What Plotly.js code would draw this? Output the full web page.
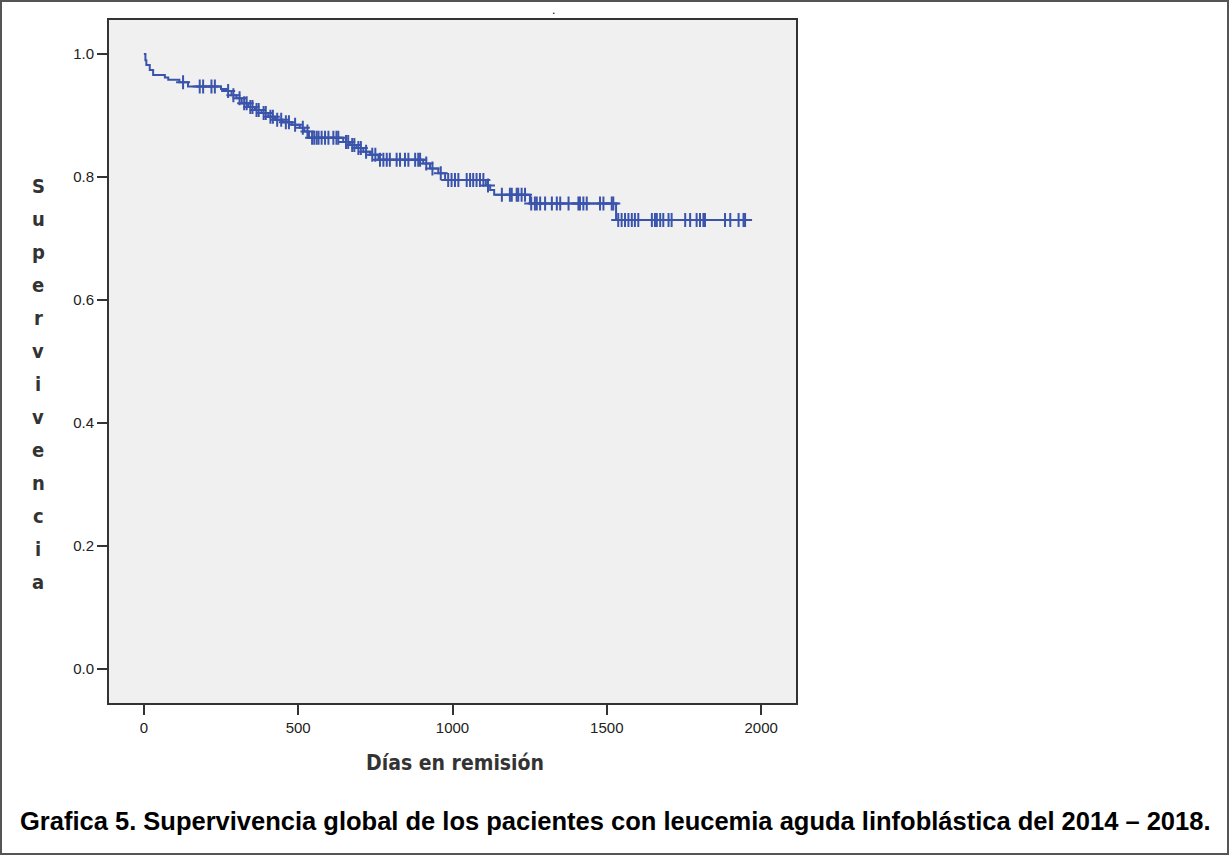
<!DOCTYPE html>
<html>
<head>
<meta charset="utf-8">
<script src="https://cdn.plot.ly/plotly-3.0.1.min.js"></script>
<style>
html,body{margin:0;padding:0;background:#fff;}
#wrap{position:relative;width:1229px;height:855px;}
#chart{position:absolute;left:0;top:0;width:1229px;height:855px;}
#frame{position:absolute;left:0;top:0;width:1229px;height:855px;box-sizing:border-box;border:2px solid #555;pointer-events:none;}
</style>
</head>
<body>
<div id="wrap"><div id="chart"></div><div id="frame"></div></div>
<script>
// Kaplan-Meier steps: day of drop and survival after it
const stepDays = [5, 8, 19, 30, 68, 79, 115, 143, 250, 268, 284, 300, 317, 338, 360, 381, 403, 425, 450, 479, 505, 520, 535, 646, 668, 689, 711, 733, 760, 905, 927, 954, 976, 1108, 1122, 1135, 1251, 1530];
const stepSurv = [0.990, 0.982, 0.974, 0.966, 0.962, 0.958, 0.954, 0.947, 0.943, 0.940, 0.933, 0.928, 0.920, 0.914, 0.909, 0.904, 0.898, 0.893, 0.889, 0.885, 0.880, 0.874, 0.864, 0.857, 0.852, 0.847, 0.841, 0.836, 0.828, 0.822, 0.814, 0.806, 0.795, 0.786, 0.779, 0.771, 0.757, 0.730];
const lastDay = 1968;
// censored observations (days)
const censorDays = [127, 181, 192, 219, 230, 273, 290, 310, 325, 333, 345, 352, 365, 372, 388, 395, 410, 418, 432, 445, 460, 470, 490, 515, 530, 545, 552, 560, 566, 576, 587, 598, 614, 624, 630, 655, 662, 675, 682, 695, 703, 720, 740, 750, 765, 776, 787, 797, 819, 830, 846, 857, 879, 889, 895, 915, 935, 962, 986, 997, 1008, 1019, 1046, 1057, 1067, 1078, 1089, 1100, 1115, 1160, 1186, 1192, 1208, 1213, 1224, 1235, 1255, 1267, 1273, 1284, 1300, 1322, 1338, 1349, 1376, 1408, 1413, 1424, 1435, 1478, 1489, 1516, 1521, 1537, 1548, 1559, 1570, 1581, 1591, 1602, 1646, 1656, 1662, 1673, 1683, 1700, 1710, 1754, 1770, 1791, 1802, 1813, 1818, 1883, 1900, 1927, 1943, 1948];
const xTicks = [0, 500, 1000, 1500, 2000];
const yTicks = [0.0, 0.2, 0.4, 0.6, 0.8, 1.0];
const xTitle = 'Días en remisión';
const yTitle = 'Supervivencia';
const caption = 'Grafica 5. Supervivencia global de los pacientes con leucemia aguda linfoblástica del 2014 – 2018.';

function survAt(d){
  let s = 1.0;
  for (let i = 0; i < stepDays.length; i++){ if (stepDays[i] <= d) s = stepSurv[i]; }
  return s;
}
const lineX = [0].concat(stepDays, [lastDay]);
const lineY = [1.0].concat(stepSurv, [stepSurv[stepSurv.length-1]]);
const cY = censorDays.map(survAt);

const W = 1229, H = 855;
const L = 109, R = 796, T = 20, B = 703;
const px2x = p => (p - L) / (R - L);
const px2y = p => (B - p) / (B - T);

const blue = '#3a54ab';
const traces = [
  {x: lineX, y: lineY, type: 'scatter', mode: 'lines', line: {shape: 'hv', color: blue, width: 2}, hoverinfo: 'skip'},
  {x: censorDays, y: cY, type: 'scatter', mode: 'markers', marker: {symbol: 'cross-thin', size: 10, line: {color: blue, width: 2}, color: blue}, hoverinfo: 'skip'}
];

const annotations = [];
yTitle.split('').forEach((ch, i) => {
  annotations.push({xref: 'paper', yref: 'paper', x: px2x(38), y: px2y(186 + 33 * i), text: '<b>' + ch + '</b>', showarrow: false,
    xanchor: 'center', yanchor: 'middle', font: {family: 'DejaVu Sans Condensed, DejaVu Sans', size: 20, color: '#333'}});
});
annotations.push({xref: 'paper', yref: 'paper', x: px2x(455), y: px2y(763), text: '<b>' + xTitle + '</b>', showarrow: false,
  xanchor: 'center', yanchor: 'middle', font: {family: 'DejaVu Sans Condensed, DejaVu Sans', size: 21, color: '#333'}});
annotations.push({xref: 'paper', yref: 'paper', x: px2x(615), y: px2y(821), text: '<b>' + caption + '</b>', showarrow: false,
  xanchor: 'center', yanchor: 'middle', font: {family: 'Liberation Sans Narrow, Arial Narrow, sans-serif', size: 25.5, color: '#000'}});
annotations.push({xref: 'paper', yref: 'paper', x: px2x(553), y: px2y(10), text: '.', showarrow: false,
  xanchor: 'center', yanchor: 'middle', font: {family: 'Arial', size: 12, color: '#000'}});

const layout = {
  width: W, height: H,
  margin: {l: L, r: W - R, t: T, b: H - B, pad: 0},
  paper_bgcolor: '#ffffff',
  plot_bgcolor: '#f0f0f0',
  showlegend: false,
  xaxis: {range: [-113, 2113], tickvals: xTicks, ticktext: xTicks.map(String), ticks: 'outside', ticklen: 10, tickwidth: 2, tickcolor: '#333',
    showline: true, mirror: true, linecolor: '#333', linewidth: 2, showgrid: false, zeroline: false,
    tickfont: {family: 'Liberation Sans, Arial', size: 15, color: '#222'}},
  yaxis: {range: [-0.0553, 1.0553], tickvals: yTicks, ticktext: yTicks.map(v => v.toFixed(1)), ticks: 'outside', ticklen: 10, tickwidth: 2, tickcolor: '#333',
    showline: true, mirror: true, linecolor: '#333', linewidth: 2, showgrid: false, zeroline: false,
    tickfont: {family: 'Liberation Sans, Arial', size: 15, color: '#222'}},
  annotations: annotations
};
Plotly.newPlot('chart', traces, layout, {displayModeBar: false, staticPlot: true});
</script>
</body>
</html>
